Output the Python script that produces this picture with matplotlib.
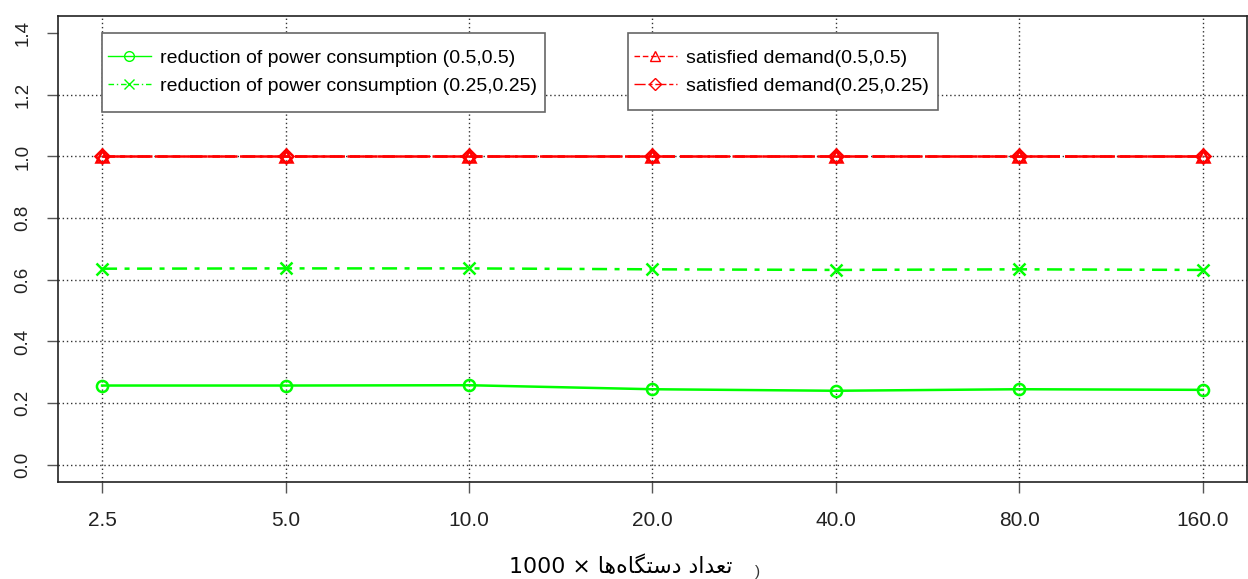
import numpy as np
import matplotlib.pyplot as plt
from matplotlib.lines import Line2D
from matplotlib.patches import Rectangle
from matplotlib.transforms import IdentityTransform

plt.rcParams['font.family'] = ['Liberation Sans', 'DejaVu Sans']

# Data
devices = ["2.5", "5.0", "10.0", "20.0", "40.0", "80.0", "160.0"]
power_05 = [0.257, 0.257, 0.258, 0.245, 0.240, 0.245, 0.243]
power_025 = [0.636, 0.637, 0.637, 0.634, 0.632, 0.634, 0.632]
demand_05 = [1.0, 1.0, 1.0, 1.0, 1.0, 1.0, 1.0]
demand_025 = [1.0, 1.0, 1.0, 1.0, 1.0, 1.0, 1.0]
yticks = [0.0, 0.2, 0.4, 0.6, 0.8, 1.0, 1.2, 1.4]

x = np.arange(1, len(devices) + 1)

fig = plt.figure(figsize=(12.48, 5.79), dpi=100)
ax = fig.add_axes([0.0465, 0.1675, 0.9525, 0.805])

# Grid (dotted, like R's abline / grid)
for yv in yticks[:-1]:
    ax.axhline(yv, color='#333333', ls=(0, (1, 2)), lw=1, zorder=1)
for xv in x:
    ax.axvline(xv, color='#333333', ls=(0, (1, 2)), lw=1, zorder=1)

green = '#00ff00'
red = '#ff0000'
ax.plot(x, power_05, color=green, lw=1.8, marker='o', ms=8, mfc='none',
        mew=1.8, zorder=3)
ax.plot(x, power_025, color=green, lw=1.8, ls=(0, (6, 3, 2, 3)), marker='x',
        ms=8, mew=1.8, zorder=3)
ax.plot(x, demand_025, color=red, lw=1.8, ls=(0, (9, 2)), marker='D', ms=7,
        mfc='none', mew=1.8, zorder=3)
ax.plot(x, demand_05, color=red, lw=1.8, ls=(0, (5, 2)), marker='^', ms=9,
        mfc='none', mew=1.8, zorder=4)

ax.set_xlim(0.76, 7.24)
ax.set_ylim(-0.056, 1.456)
ax.set_xticks(x)
ax.set_xticklabels(devices, fontsize=15)
ax.set_yticks(yticks)
ax.set_yticklabels([f"{v:.1f}" for v in yticks], fontsize=13.5, rotation=90,
                   va='center')
ax.tick_params(axis='both', length=8, width=1, color='#555555', colors='#222222')
ax.tick_params(axis='x', pad=13)
ax.tick_params(axis='y', pad=11)
for s in ax.spines.values():
    s.set_color('#222222')
    s.set_linewidth(1.2)

# Legends (frames drawn separately, R-style uneven padding)
h1 = [Line2D([], [], color=green, lw=1, marker='o', ms=7, mfc='none'),
      Line2D([], [], color=green, lw=1, ls=(0, (4, 2, 1, 2)), marker='x', ms=7)]
leg1 = ax.legend(h1, ["reduction of power consumption (0.5,0.5)",
                      "reduction of power consumption (0.25,0.25)"],
                 loc='upper left', bbox_to_anchor=(0.042, 0.929),
                 borderaxespad=0, fontsize=14, handlelength=2.2,
                 handletextpad=0.5, labelspacing=0.55, frameon=False,
                 borderpad=0)
ax.add_artist(leg1)

h2 = [Line2D([], [], color=red, lw=1, ls=(0, (4, 2)), marker='^', ms=7, mfc='none'),
      Line2D([], [], color=red, lw=1, ls=(0, (8, 2, 3, 2)), marker='D', ms=6, mfc='none')]
leg2 = ax.legend(h2, ["satisfied demand(0.5,0.5)", "satisfied demand(0.25,0.25)"],
                 loc='upper left', bbox_to_anchor=(0.4844, 0.929),
                 borderaxespad=0, fontsize=14, handlelength=2.2,
                 handletextpad=0.5, labelspacing=0.55, frameon=False,
                 borderpad=0)

fig.canvas.draw()
renderer = fig.canvas.get_renderer()
for leg, pad_right, pad_bot in ((leg1, 8, 17), (leg2, 9, 15)):
    bb = leg.get_window_extent(renderer)
    pad_top = 16
    ax.add_patch(Rectangle((bb.x0 - 6, bb.y0 - pad_bot), bb.width + 6 + pad_right,
                           bb.height + pad_top + pad_bot,
                           transform=IdentityTransform(),
                           fc='white', ec='#666666', lw=1.2, zorder=4.5,
                           clip_on=False))

# X label: Persian text pre-shaped (presentation forms) in visual order
persian = "\uFE8E\uFEEB\uFEE9\uFE8E\uFB95\uFE98\uFEB3\uFEA9 \uFEA9\uFE8D\uFEAA\uFECC\uFE97"
fig.text(0.497, 0.011, "1000 \u00d7 " + persian, fontsize=15.8,
         family=['DejaVu Sans'], ha='center', va='baseline')
fig.text(0.607, 0.006, ")", fontsize=11, ha='center', va='baseline',
         color='#333333')

fig.savefig("out.png", dpi=100)
